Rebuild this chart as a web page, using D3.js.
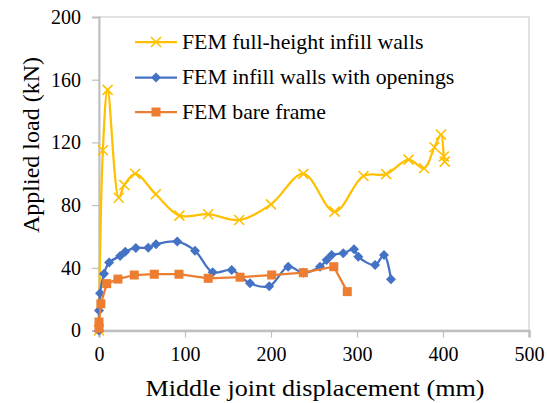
<!DOCTYPE html>
<html>
<head>
<script src="https://d3js.org/d3.v7.min.js"></script>
</head>
<body style="margin:0">
<svg width="547" height="403" font-family="Liberation Serif"></svg>
<script>
    // FEM full-height infill walls
    const fullX = [0, 4.5, 10, 23, 29.4, 42, 66, 93.5, 127, 163, 200, 237.6, 274, 307.5, 334, 360, 378, 390, 397.7, 401, 402];
    const fullY = [0, 115, 153.5, 84.7, 92.8, 100, 86.9, 73.3, 74.2, 70.5, 80.5, 99.9, 75.8, 98.6, 99.8, 109, 103.5, 116.9, 125, 111, 107.7];

    // FEM infill walls with openings
    const openX = [0, 0, 1.2, 5.8, 11.8, 24.5, 30.5, 42.8, 57.3, 66.3, 91, 111.6, 132.2, 154.3, 175.6, 198, 220, 237.6, 257, 264.7, 270.5, 284, 296.5, 301.5, 321, 331.4, 339.5];
    const openY = [0, 12.8, 23.7, 36.2, 43.4, 47.6, 50.3, 52.7, 52.8, 55, 56.7, 50.9, 37.1, 38.6, 30.1, 28.2, 40.7, 36.9, 40.7, 45, 48.2, 49.3, 51.8, 47.1, 41.8, 48.2, 32.7];

    // FEM bare frame
    const bareX = [0, 0, 2.2, 9, 22, 41, 64.3, 93, 127, 164, 200.8, 237.6, 273, 288.7];
    const bareY = [1.4, 5.4, 17, 29.9, 32.8, 35.4, 35.9, 35.9, 33.3, 34, 35.4, 36.9, 40.7, 24.8];

    const xTicks = [0, 100, 200, 300, 400, 500];
    const yTicks = [0, 40, 80, 120, 160, 200];

    const seriesNames = ["FEM full-height infill walls", "FEM infill walls with openings", "FEM bare frame"];
    const colors = ["#FFC000", "#4472C4", "#ED7D31"];

    const FONT = "Liberation Serif";
    const STRETCH = 1.09; // the source picture is a little wider than tall

    const margin = { left: 99, right: 18, top: 17, bottom: 72.5 };
    const svg = d3.select("svg");
    const W = +svg.attr("width"), H = +svg.attr("height");
    const w = W - margin.left - margin.right;
    const h = H - margin.top - margin.bottom;

    const x = d3.scaleLinear().domain([0, 500]).range([0, w]);
    const y = d3.scaleLinear().domain([0, 200]).range([h, 0]);

    const g = svg.append("g").attr("transform", `translate(${margin.left},${margin.top})`);

    // plot area frame
    g.append("rect")
        .attr("width", w).attr("height", h)
        .attr("fill", "none").attr("stroke", "#D9D9D9").attr("stroke-width", 1.5);

    const yAxis = g.append("g")
        .call(d3.axisLeft(y).tickValues(yTicks).tickSize(7).tickPadding(11));
    yAxis.select(".domain").attr("stroke", "#BFBFBF").attr("stroke-width", 2);
    yAxis.selectAll(".tick line").attr("stroke", "#BFBFBF").attr("stroke-width", 1.2);

    const xAxis = g.append("g")
        .attr("transform", `translate(0,${h})`)
        .call(d3.axisBottom(x).tickValues(xTicks).tickSize(7).tickPadding(9));
    xAxis.select(".domain").attr("stroke", "#BFBFBF").attr("stroke-width", 2.5);
    xAxis.selectAll(".tick line").attr("stroke", "#BFBFBF").attr("stroke-width", 1.2);

    [xAxis, yAxis].forEach(a => a.attr("font-family", FONT).attr("font-size", 20));
    svg.selectAll(".tick text")
        .attr("font-family", FONT).attr("font-size", 20).attr("fill", "#000");

    g.append("text")
        .attr("transform", `translate(${w / 2 + 1},${h + 65}) scale(${STRETCH},1)`)
        .attr("text-anchor", "middle")
        .attr("font-family", FONT).attr("font-size", 24)
        .text("Middle joint displacement (mm)");

    svg.append("text")
        .attr("transform", `translate(39,145) rotate(-90)`)
        .attr("text-anchor", "middle")
        .attr("font-family", FONT).attr("font-size", 24)
        .text("Applied load (kN)");

    const toPts = (xs, ys) => xs.map((v, i) => [v, ys[i]]);
    const data = [toPts(fullX, fullY), toPts(openX, openY), toPts(bareX, bareY)];
    const curves = [d3.curveCatmullRom.alpha(0.5), d3.curveCatmullRom.alpha(0.5), d3.curveLinear];

    const plot = g.append("g");

    function drawMarker(sel, i, cx, cy) {
        if (i === 0) {
            const s = 5;
            sel.append("path")
                .attr("d", `M${cx - s},${cy - s}L${cx + s},${cy + s}M${cx - s},${cy + s}L${cx + s},${cy - s}`)
                .attr("stroke", colors[0]).attr("stroke-width", 1.6).attr("fill", "none");
        } else if (i === 1) {
            const s = 5;
            sel.append("path")
                .attr("d", `M${cx},${cy - s}L${cx + s},${cy}L${cx},${cy + s}L${cx - s},${cy}Z`)
                .attr("fill", colors[1]);
        } else {
            const s = 4.5;
            sel.append("rect")
                .attr("x", cx - s).attr("y", cy - s).attr("width", 2 * s).attr("height", 2 * s)
                .attr("fill", colors[2]);
        }
    }

    data.forEach((pts, i) => {
        const line = d3.line().x(d => x(d[0])).y(d => y(d[1])).curve(curves[i]);
        plot.append("path")
            .datum(pts)
            .attr("d", line)
            .attr("fill", "none")
            .attr("stroke", colors[i])
            .attr("stroke-width", 2.25);
        const mg = plot.append("g");
        pts.forEach(d => drawMarker(mg, i, x(d[0]), y(d[1])));
    });

    // legend
    const legend = svg.append("g");
    const rowsY = [42, 77.5, 112];
    seriesNames.forEach((name, i) => {
        const row = legend.append("g");
        row.append("line")
            .attr("x1", 135).attr("x2", 177)
            .attr("y1", rowsY[i]).attr("y2", rowsY[i])
            .attr("stroke", colors[i]).attr("stroke-width", 2.25);
        drawMarker(row, i, 156, rowsY[i]);
        row.append("text")
            .attr("transform", `translate(182,${rowsY[i]}) scale(${STRETCH},1)`)
            .attr("dy", "0.33em")
            .attr("font-family", FONT).attr("font-size", 20)
            .text(name);
    });
</script>
</body>
</html>
